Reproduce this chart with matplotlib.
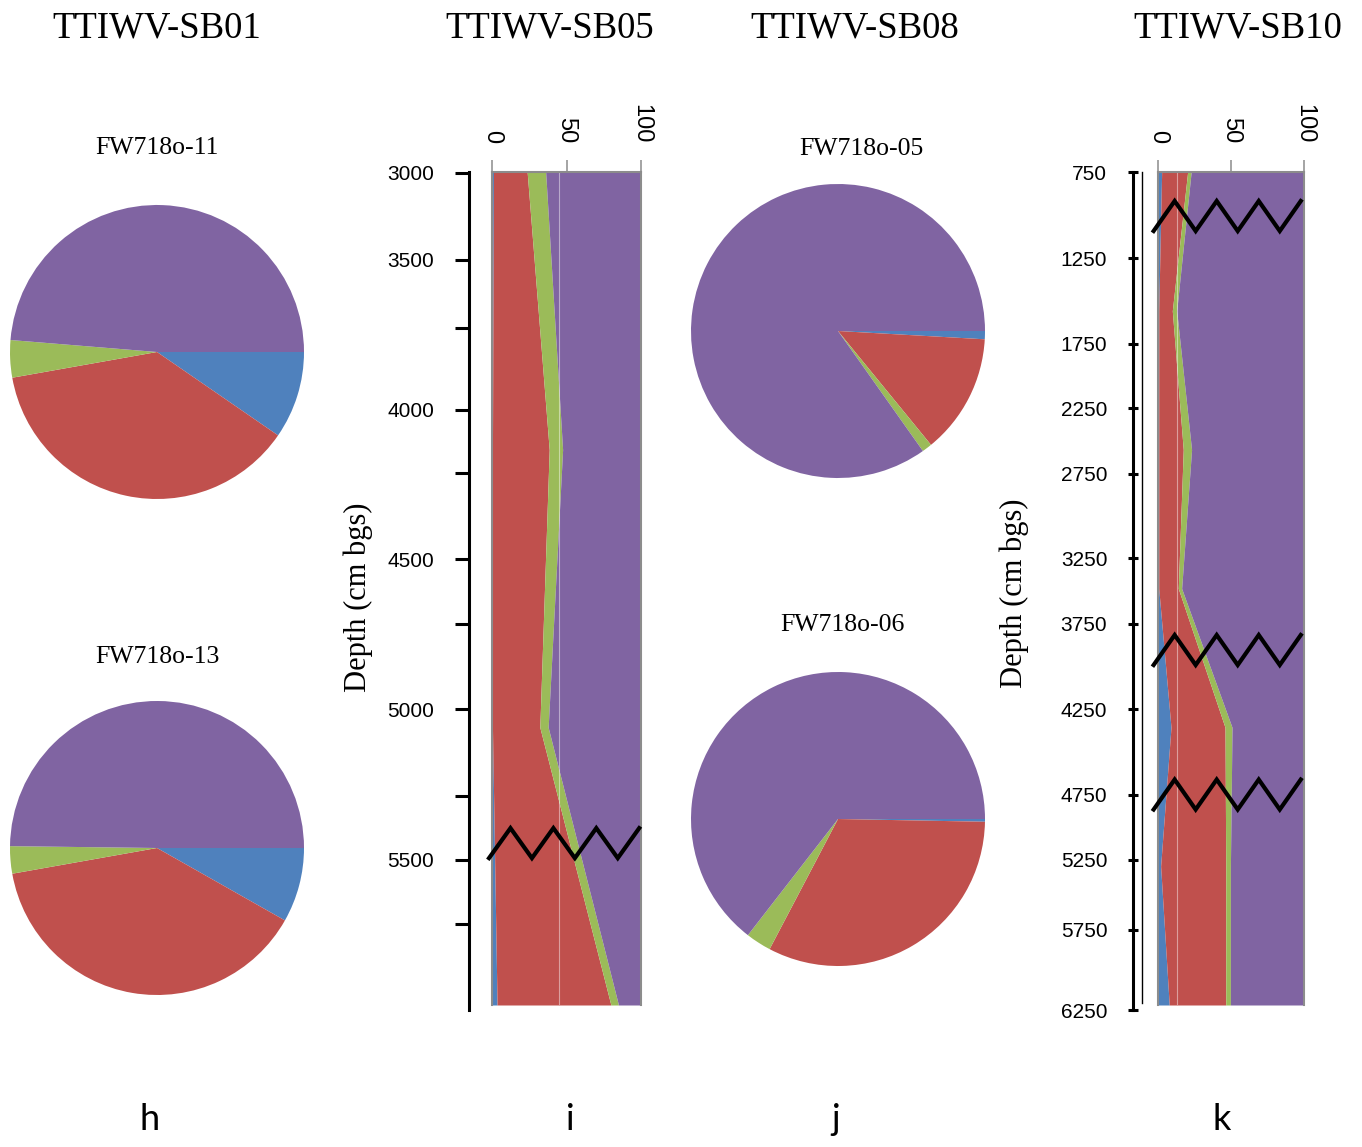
import matplotlib
matplotlib.use('Agg')
import matplotlib.pyplot as plt
import numpy as np
from matplotlib.lines import Line2D

W, H = 1362, 1147

# series colours: blue, red, green, purple
colors = ['#4F81BD', '#C0504D', '#9BBB59', '#8064A2']

titles = ['TTIWV-SB01', 'TTIWV-SB05', 'TTIWV-SB08', 'TTIWV-SB10']
panel_letters = ['h', 'i', 'j', 'k']

# pie samples (%, blue/red/green/purple)
sb01_labels = ['FW718o-11', 'FW718o-13']
sb01_11 = [9.6, 37.6, 4.1, 48.7]
sb01_13 = [8.2, 39.0, 3.0, 49.8]
sb08_labels = ['FW718o-05', 'FW718o-06']
sb08_05 = [0.9, 13.2, 1.1, 84.8]
sb08_06 = [0.3, 32.4, 2.8, 64.5]

# SB05 depth profile, one value per sample from top to bottom
sb05_blue = [1.0, 0.3, 0.3, 3.4]
sb05_red = [22.6, 38.1, 31.8, 76.4]
sb05_green = [12.4, 9.0, 5.6, 5.1]
sb05_purple = [64.0, 52.6, 62.3, 15.1]
sb05_depth_labels = ['3000', '3500', '', '4000', '', '4500', '', '5000', '', '5500', '']

# SB10 depth profile
sb10_blue = [2.5, 0.5, 0.5, 0.5, 8.9, 1.8, 7.7]
sb10_red = [17.8, 9.3, 16.8, 13.4, 37.0, 44.6, 38.7]
sb10_green = [2.4, 3.0, 5.7, 2.3, 4.8, 3.2, 3.2]
sb10_purple = [77.3, 87.2, 77.0, 83.8, 49.3, 50.4, 50.4]
sb10_depth_labels = ['750', '1250', '1750', '2250', '2750', '3250',
                     '3750', '4250', '4750', '5250', '5750', '6250']

value_ticks = [0, 50, 100]

# hand placed depth ticks (fraction of axis length, top = 0)
sb05_tick_pos = [0.001, 0.105, 0.186, 0.284, 0.359, 0.462, 0.539, 0.641, 0.745, 0.821, 0.897]
sb10_tick_pos = [0.0, 0.103, 0.205, 0.282, 0.360, 0.461, 0.539, 0.641, 0.743, 0.821, 0.904, 1.0]

SERIF = 'Liberation Serif'
SANS = 'Liberation Sans'
GRAY = '#8C8C8C'

fig = plt.figure(figsize=(W / 100, H / 100), dpi=100)


def fbox(x0, y0, x1, y1):
    """Pixel box (top-left origin) -> figure fraction rect."""
    return [x0 / W, 1 - y1 / H, (x1 - x0) / W, (y1 - y0) / H]


def fig_text(x, y, s, **kw):
    fig.text(x / W, 1 - y / H, s, **kw)


def draw_pie(box, values, label, label_xy):
    ax = fig.add_axes(fbox(*box))
    ax.pie(values, colors=colors, startangle=0, counterclock=False, radius=1,
           wedgeprops=dict(linewidth=0))
    ax.set_xlim(-1, 1)
    ax.set_ylim(-1, 1)
    ax.set_aspect('equal')
    ax.set_axis_off()
    fig_text(*label_xy, label, ha='center', va='baseline', family=SERIF, fontsize=18.5)


def zigzag(ax, yc, amp, x0=-3.0, step=14.4, n=8):
    xs = [x0 + step * k for k in range(n)]
    ys = [yc + amp if k % 2 == 0 else yc - amp for k in range(n)]
    ax.plot(xs, ys, color='black', lw=3, clip_on=False, solid_joinstyle='miter', zorder=5)


def draw_profile(box, series, guide_x):
    ax = fig.add_axes(fbox(*box))
    n = len(series[0])
    y = np.arange(n)
    left = np.zeros(n)
    for vals, c in zip(series, colors):
        right = left + np.array(vals)
        ax.fill_betweenx(y, left, right, color=c, linewidth=0)
        left = right
    ax.axvline(guide_x, color='white', alpha=0.45, lw=0.8)
    ax.set_xlim(0, 100)
    ax.set_ylim(n - 1, 0)
    ax.xaxis.tick_top()
    ax.set_xticks(value_ticks)
    ax.set_xticklabels([str(v) for v in value_ticks], family=SANS, fontsize=17)
    ax.tick_params(axis='x', labelrotation=-90, length=8.6, width=1.1, color=GRAY, pad=12)
    ax.set_yticks([])
    ax.spines['bottom'].set_visible(False)
    for s in ['top', 'left', 'right']:
        ax.spines[s].set_color(GRAY)
        ax.spines[s].set_linewidth(1.5)
    return ax


def draw_depth_axis(x, y0, y1, tick_pos, labels, tick_len, direction, pad):
    ax = fig.add_axes([x / W, 1 - y1 / H, 10 / W, (y1 - y0) / H])
    ax.patch.set_visible(False)
    ax.set_xlim(0, 1)
    ax.set_ylim(1, 0)
    for s in ['top', 'right', 'bottom']:
        ax.spines[s].set_visible(False)
    ax.spines['left'].set_linewidth(2.2)
    ax.spines['left'].set_color('black')
    ax.set_xticks([])
    ax.set_yticks(tick_pos)
    ax.set_yticklabels(labels, family=SANS, fontsize=15)
    ax.tick_params(axis='y', length=tick_len, width=2.2, direction=direction, pad=pad)


# titles and panel letters
for t, x in zip(titles, [157, 550, 855, 1238]):
    fig_text(x, 38, t, ha='center', va='baseline', family=SERIF, fontsize=26.5)
for t, x in zip(panel_letters, [150, 570, 836, 1222]):
    fig_text(x, 1130, t, ha='center', va='baseline', family='Lato', fontsize=26)

# SB01 pies
draw_pie((10, 205, 304, 499), sb01_11, sb01_labels[0], (157, 154))
draw_pie((10, 701, 304, 995), sb01_13, sb01_labels[1], (157, 663))

# SB08 pies
draw_pie((691, 184, 985, 478), sb08_05, sb08_labels[0], (861, 155))
draw_pie((691, 672, 985, 966), sb08_06, sb08_labels[1], (842, 631))

# SB05 profile
ax05 = draw_profile((492, 172, 641, 1005), [sb05_blue, sb05_red, sb05_green, sb05_purple], 45)
zigzag(ax05, 2.417, 0.054, x0=-2.0)
draw_depth_axis(469, 172, 1010, sb05_tick_pos, sb05_depth_labels, 10, 'out', 15)
fig_text(358, 597, 'Depth (cm bgs)', ha='center', va='center', rotation=90,
         family=SERIF, fontsize=22)

# SB10 profile
ax10 = draw_profile((1158, 172, 1304, 1005), [sb10_blue, sb10_red, sb10_green, sb10_purple], 13)
for yc in [0.317, 3.443, 4.484]:
    zigzag(ax10, yc, 0.108)
draw_depth_axis(1133, 172, 1010, sb10_tick_pos, sb10_depth_labels, 7, 'inout', 15)
fig.add_artist(Line2D([1142 / W, 1142 / W], [1 - 172 / H, 1 - 1003 / H],
                      transform=fig.transFigure, color='black', lw=1))
fig_text(1014, 593, 'Depth (cm bgs)', ha='center', va='center', rotation=90,
         family=SERIF, fontsize=22)

fig.savefig('out.png', dpi=100)
